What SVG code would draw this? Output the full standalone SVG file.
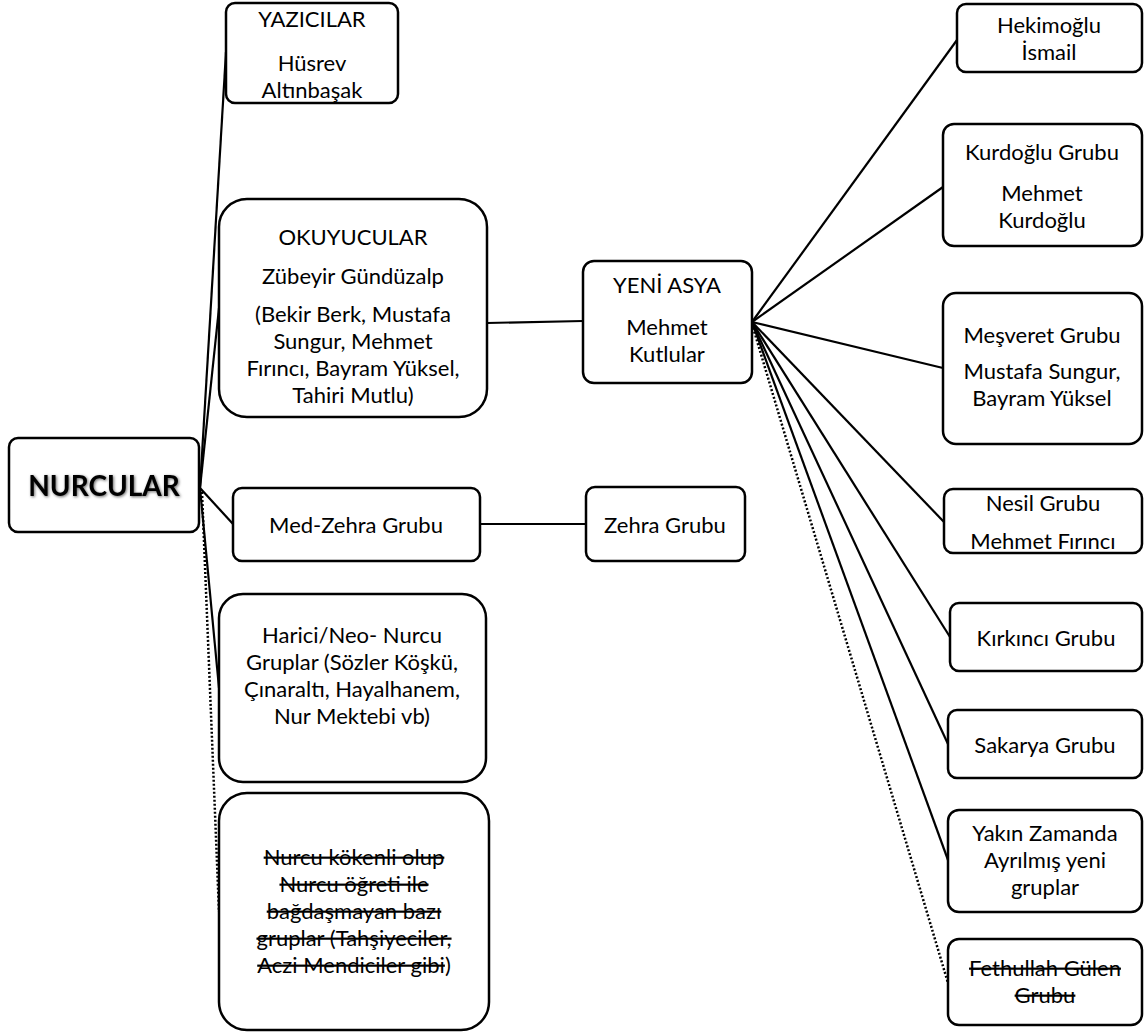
<svg xmlns="http://www.w3.org/2000/svg" width="1144" height="1035" viewBox="0 0 1144 1035">
<style>
.box{fill:#fff;stroke:#000;stroke-width:2.5}
.t{font-family:Lato,"Open Sans","DejaVu Sans",sans-serif;font-size:22px;fill:#000;text-anchor:middle;dominant-baseline:central}
.s{text-decoration:line-through}
.c{stroke:#000;stroke-width:2.2;fill:none}
.d{stroke:#000;stroke-width:2.5;fill:none;stroke-dasharray:2 2}
</style>
<defs>
<filter id="sh" x="-10%" y="-30%" width="130%" height="160%">
<feDropShadow dx="1" dy="1" stdDeviation="1.5" flood-color="#000" flood-opacity="0.6"/>
</filter>
</defs>
<g id="connectors">
<line class="c" x1="200" y1="488" x2="226" y2="52"/>
<line class="c" x1="200" y1="488" x2="219" y2="308"/>
<line class="c" x1="200" y1="488" x2="233" y2="524"/>
<line class="c" x1="200" y1="488" x2="219" y2="688"/>
<line class="d" x1="202" y1="492" x2="219" y2="912"/>
<line class="c" x1="480" y1="524" x2="586" y2="524"/>
<line class="c" x1="487" y1="323" x2="583" y2="321"/>
<line class="c" x1="752" y1="322" x2="957" y2="40"/>
<line class="c" x1="752" y1="322" x2="943" y2="187"/>
<line class="c" x1="752" y1="322" x2="943" y2="368"/>
<line class="c" x1="752" y1="322" x2="944" y2="522"/>
<line class="c" x1="752" y1="322" x2="950" y2="637"/>
<line class="c" x1="752" y1="322" x2="948" y2="744"/>
<line class="c" x1="752" y1="322" x2="948" y2="860"/>
<line class="d" x1="752" y1="324" x2="948" y2="983"/>
</g>
<g id="nurcular">
<rect class="box" x="9" y="438" width="190" height="94" rx="9"/>
<text class="t" x="104" y="485" style="font-weight:bold;font-size:28px" filter="url(#sh)">NURCULAR</text>
</g>
<g id="yazicilar">
<rect class="box" x="226" y="3" width="172" height="100" rx="9"/>
<text class="t" x="312" y="18">YAZICILAR</text>
<text class="t" x="312" y="62">Hüsrev</text>
<text class="t" x="312" y="89">Altınbaşak</text>
</g>
<g id="okuyucular">
<rect class="box" x="219" y="199" width="268" height="218" rx="28"/>
<text class="t" x="353" y="236">OKUYUCULAR</text>
<text class="t" x="353" y="275">Zübeyir Gündüzalp</text>
<text class="t" x="353" y="313">(Bekir Berk, Mustafa</text>
<text class="t" x="353" y="340">Sungur, Mehmet</text>
<text class="t" x="353" y="367">Fırıncı, Bayram Yüksel,</text>
<text class="t" x="353" y="394">Tahiri Mutlu)</text>
</g>
<g id="medzehra">
<rect class="box" x="233" y="488" width="247" height="73" rx="9"/>
<text class="t" x="356" y="524">Med-Zehra Grubu</text>
</g>
<g id="zehra">
<rect class="box" x="586" y="487" width="159" height="74" rx="9"/>
<text class="t" x="665" y="524">Zehra Grubu</text>
</g>
<g id="harici">
<rect class="box" x="219" y="594" width="267" height="188" rx="24"/>
<text class="t" x="352" y="634">Harici/Neo- Nurcu</text>
<text class="t" x="352" y="661">Gruplar (Sözler Köşkü,</text>
<text class="t" x="352" y="688">Çınaraltı, Hayalhanem,</text>
<text class="t" x="352" y="715">Nur Mektebi vb)</text>
</g>
<g id="nurcukokenli">
<rect class="box" x="219" y="793" width="270" height="237" rx="28"/>
<text class="t" x="354" y="856"><tspan class="s">Nurcu kökenli olup</tspan></text>
<text class="t" x="354" y="883"><tspan class="s">Nurcu öğreti ile</tspan></text>
<text class="t" x="354" y="910"><tspan class="s">bağdaşmayan bazı</tspan></text>
<text class="t" x="354" y="937"><tspan class="s">gruplar (Tahşiyeciler,</tspan></text>
<text class="t" x="354" y="964"><tspan class="s">Aczi Mendiciler gibi</tspan>)</text>
</g>
<g id="yeniasya">
<rect class="box" x="583" y="261" width="169" height="122" rx="11"/>
<text class="t" x="667" y="284">YENİ ASYA</text>
<text class="t" x="667" y="326">Mehmet</text>
<text class="t" x="667" y="353">Kutlular</text>
</g>
<g id="hekimoglu">
<rect class="box" x="957" y="4" width="185" height="68" rx="9"/>
<text class="t" x="1049" y="24">Hekimoğlu</text>
<text class="t" x="1049" y="51">İsmail</text>
</g>
<g id="kurdoglu">
<rect class="box" x="943" y="124" width="199" height="122" rx="11"/>
<text class="t" x="1042" y="151">Kurdoğlu Grubu</text>
<text class="t" x="1042" y="192">Mehmet</text>
<text class="t" x="1042" y="219">Kurdoğlu</text>
</g>
<g id="mesveret">
<rect class="box" x="943" y="293" width="199" height="151" rx="13"/>
<text class="t" x="1042" y="334">Meşveret Grubu</text>
<text class="t" x="1042" y="370">Mustafa Sungur,</text>
<text class="t" x="1042" y="397">Bayram Yüksel</text>
</g>
<g id="nesil">
<rect class="box" x="944" y="489" width="198" height="64" rx="9"/>
<text class="t" x="1043" y="502">Nesil Grubu</text>
<text class="t" x="1043" y="540">Mehmet Fırıncı</text>
</g>
<g id="kirkinci">
<rect class="box" x="950" y="603" width="192" height="68" rx="9"/>
<text class="t" x="1046" y="637">Kırkıncı Grubu</text>
</g>
<g id="sakarya">
<rect class="box" x="948" y="710" width="194" height="68" rx="9"/>
<text class="t" x="1045" y="744">Sakarya Grubu</text>
</g>
<g id="yakin">
<rect class="box" x="948" y="810" width="194" height="102" rx="11"/>
<text class="t" x="1045" y="832">Yakın Zamanda</text>
<text class="t" x="1045" y="859">Ayrılmış yeni</text>
<text class="t" x="1045" y="886">gruplar</text>
</g>
<g id="fethullah">
<rect class="box" x="948" y="939" width="194" height="86" rx="11"/>
<text class="t" x="1045" y="967"><tspan class="s">Fethullah Gülen</tspan></text>
<text class="t" x="1045" y="994"><tspan class="s">Grubu</tspan></text>
</g>
</svg>
